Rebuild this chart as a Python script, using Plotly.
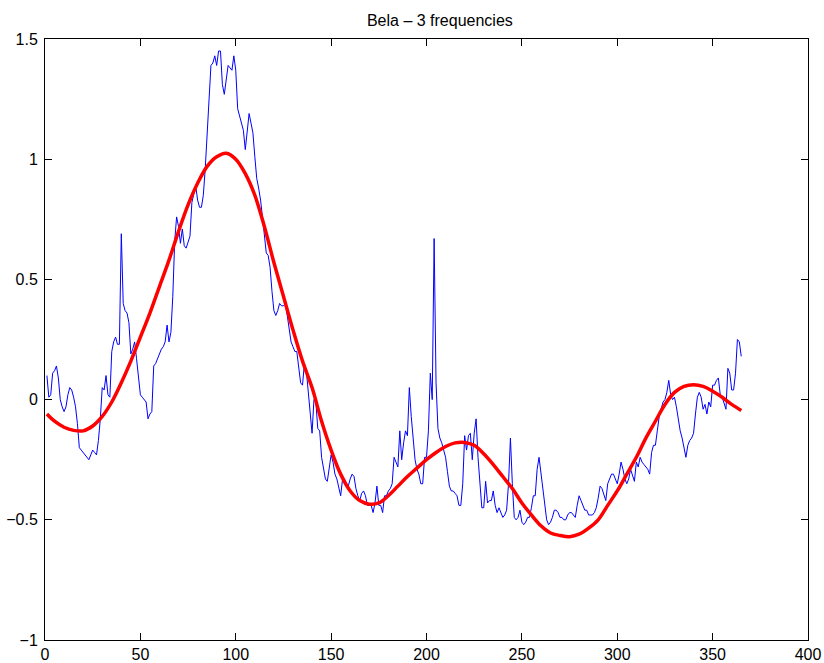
import plotly.graph_objects as go

# Daily observations (day 1 .. 365)
days = list(range(1, 366))
observed = [
    0.10, 0.01, 0.02, 0.11, 0.12, 0.14, 0.09, 0.00, -0.03, -0.05,
    -0.03, 0.02, 0.05, 0.04, 0.01, -0.03, -0.10, -0.20, -0.21, -0.22,
    -0.23, -0.24, -0.25, -0.23, -0.21, -0.22, -0.23, -0.17, -0.08, 0.05,
    0.04, 0.10, 0.02, 0.01, 0.20, 0.24, 0.26, 0.23, 0.23, 0.69,
    0.40, 0.37, 0.36, 0.32, 0.19, 0.21, 0.24, 0.17, 0.08, 0.02,
    0.01, 0.00, -0.01, -0.08, -0.06, -0.05, 0.14, 0.15, 0.17, 0.19,
    0.21, 0.22, 0.24, 0.31, 0.24, 0.28, 0.43, 0.66, 0.76, 0.72,
    0.65, 0.71, 0.64, 0.63, 0.66, 0.68, 0.82, 0.85, 0.89, 0.83,
    0.80, 0.80, 0.85, 0.96, 1.10, 1.20, 1.39, 1.40, 1.43, 1.39,
    1.45, 1.45, 1.31, 1.27, 1.33, 1.39, 1.38, 1.37, 1.43, 1.37,
    1.21, 1.18, 1.15, 1.12, 1.04, 1.11, 1.19, 1.15, 1.11, 1.01,
    0.92, 0.88, 0.83, 0.76, 0.68, 0.61, 0.60, 0.55, 0.45, 0.37,
    0.35, 0.37, 0.40, 0.39, 0.39, 0.40, 0.35, 0.29, 0.24, 0.22,
    0.20, 0.20, 0.12, 0.07, 0.06, 0.15, 0.12, 0.04, -0.07, -0.14,
    0.00, -0.01, -0.12, -0.13, -0.24, -0.29, -0.33, -0.34, -0.29, -0.23,
    -0.26, -0.31, -0.33, -0.36, -0.40, -0.33, -0.33, -0.35, -0.36, -0.33,
    -0.31, -0.32, -0.37, -0.40, -0.42, -0.39, -0.38, -0.40, -0.44, -0.44,
    -0.44, -0.47, -0.43, -0.36, -0.44, -0.44, -0.47, -0.40, -0.40, -0.38,
    -0.37, -0.35, -0.24, -0.26, -0.28, -0.13, -0.25, -0.18, -0.13, -0.15,
    0.05, -0.07, -0.18, -0.25, -0.29, -0.31, -0.35, -0.35, -0.24, -0.24,
    -0.13, 0.11, 0.00, 0.67, 0.07, -0.12, -0.16, -0.18, -0.21, -0.24,
    -0.30, -0.36, -0.38, -0.38, -0.39, -0.40, -0.44, -0.44, -0.35, -0.15,
    -0.21, -0.15, -0.14, -0.25, -0.14, -0.08, -0.24, -0.35, -0.45, -0.45,
    -0.34, -0.43, -0.42, -0.42, -0.38, -0.44, -0.47, -0.45, -0.47, -0.49,
    -0.48, -0.46, -0.35, -0.16, -0.35, -0.49, -0.50, -0.49, -0.46, -0.51,
    -0.52, -0.51, -0.49, -0.49, -0.45, -0.40, -0.40, -0.29, -0.24, -0.31,
    -0.38, -0.44, -0.50, -0.52, -0.51, -0.49, -0.46, -0.46, -0.47, -0.49,
    -0.49, -0.50, -0.50, -0.48, -0.47, -0.47, -0.48, -0.49, -0.44, -0.40,
    -0.42, -0.44, -0.46, -0.46, -0.48, -0.48, -0.48, -0.47, -0.45, -0.41,
    -0.36, -0.37, -0.40, -0.42, -0.35, -0.33, -0.31, -0.31, -0.33, -0.35,
    -0.31, -0.26, -0.29, -0.33, -0.35, -0.33, -0.29, -0.32, -0.34, -0.26,
    -0.28, -0.24, -0.26, -0.27, -0.28, -0.29, -0.31, -0.22, -0.19, -0.19,
    -0.13, -0.07, -0.04, -0.01, 0.00, 0.03, 0.08, 0.02, 0.00, 0.01,
    -0.03, -0.09, -0.13, -0.16, -0.20, -0.24, -0.19, -0.17, -0.16, -0.14,
    -0.06, 0.01, 0.03, 0.01, -0.04, -0.02, -0.06, -0.01, -0.03, 0.06,
    0.06, 0.08, 0.09, 0.02, 0.01, -0.02, -0.04, 0.13, 0.11, 0.04,
    0.04, 0.11, 0.25, 0.24, 0.18,
]

# Three-frequency fit, sampled every 5 days
fit_days = [1] + list(range(5, 366, 5))
fit_values = [
    -0.06, -0.09, -0.115, -0.128, -0.13, -0.11, -0.07, -0.01, 0.07, 0.16,
    0.26, 0.36, 0.47, 0.58, 0.70, 0.81, 0.90, 0.97, 1.01, 1.025,
    1.00, 0.94, 0.85, 0.72, 0.57, 0.43, 0.29, 0.16, 0.05, -0.09,
    -0.21, -0.31, -0.38, -0.42, -0.435, -0.43, -0.40, -0.36, -0.32, -0.285,
    -0.25, -0.22, -0.195, -0.18, -0.178, -0.19, -0.225, -0.27, -0.32, -0.37,
    -0.43, -0.48, -0.525, -0.555, -0.565, -0.57, -0.56, -0.535, -0.50, -0.44,
    -0.38, -0.31, -0.24, -0.16, -0.09, -0.02, 0.03, 0.055, 0.062, 0.055,
    0.035, 0.01, -0.02, -0.045,
]

x_ticks = [0, 50, 100, 150, 200, 250, 300, 350, 400]
y_ticks = [-1, -0.5, 0, 0.5, 1, 1.5]
y_tick_text = ["\u22121", "\u22120.5", "0", "0.5", "1", "1.5"]

fig = go.Figure()
fig.add_trace(go.Scatter(
    x=days, y=observed, mode="lines",
    line=dict(color="#0000FF", width=1),
    hoverinfo="skip",
))
fig.add_trace(go.Scatter(
    x=fit_days, y=fit_values, mode="lines",
    line=dict(color="#FF0000", width=3.5, shape="spline", smoothing=1.0),
    hoverinfo="skip",
))

axis_common = dict(
    showgrid=False, zeroline=False, automargin=False,
    showline=True, linecolor="black", linewidth=1,
    mirror="ticks", ticks="inside", ticklen=7, tickwidth=1, tickcolor="black",
    tickfont=dict(family="Liberation Sans, Arial, sans-serif", size=16, color="black"),
)

fig.update_layout(
    width=824, height=663,
    margin=dict(l=45, r=16, t=39, b=23, autoexpand=False),
    paper_bgcolor="white", plot_bgcolor="white",
    showlegend=False,
    title=dict(
        text="Bela \u2013 3 frequencies",
        x=0.5175, xanchor="center", xref="paper",
        y=1 - 20 / 663, yanchor="middle", yref="container",
        font=dict(family="Liberation Sans, Arial, sans-serif", size=16, color="black"),
    ),
    xaxis=dict(range=[0, 400], tickvals=x_ticks, ticklabelstandoff=0, **axis_common),
    yaxis=dict(range=[-1, 1.5], tickvals=y_ticks, ticktext=y_tick_text,
               ticklabelstandoff=3, **axis_common),
)

fig.write_html("out.html")
